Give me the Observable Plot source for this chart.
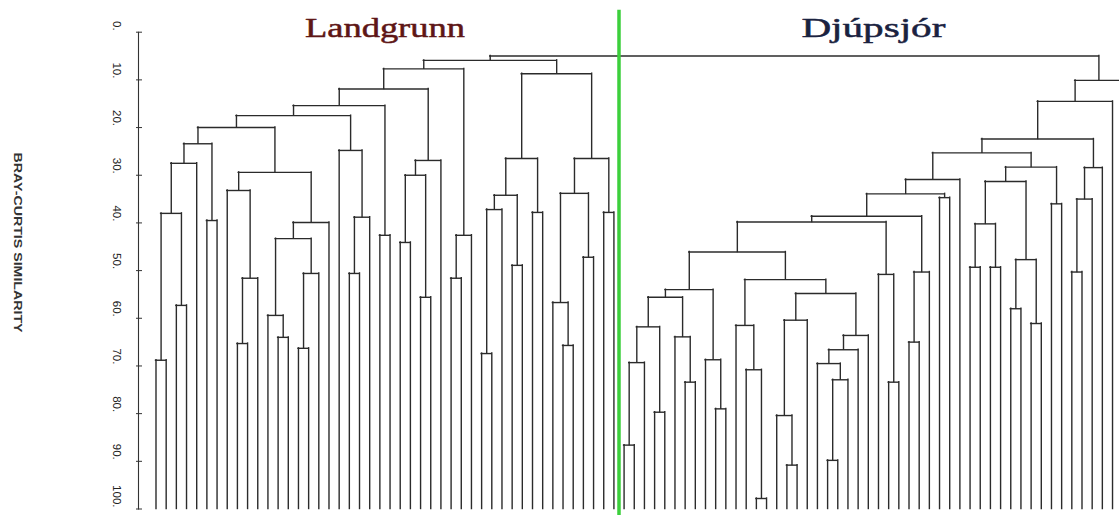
<!DOCTYPE html>
<html>
<head>
<meta charset="utf-8">
<script src="https://cdn.jsdelivr.net/npm/d3@7"></script>
<script src="https://cdn.jsdelivr.net/npm/@observablehq/plot@0.6"></script>
<style>
  html, body { margin: 0; padding: 0; background: #fff; overflow: hidden; }
  #chart svg { display: block; }
</style>
</head>
<body>
<div id="chart"></div>
<script>
// Bray-Curtis similarity dendrogram of the sampling stations.
// Every internal node is [similarity, left, right]; L stands for a single station.
const L = null;

// Landgrunn (shelf) stations
const shelfA = [23.4, [27.5, [38.0, [68.8, L, L], [57.3, L, L]], L], [39.5, L, L]];
const shelfB = [29.4, [33.2, L, [51.6, [65.3, L, L], L]],
                      [39.9, [43.3, [59.4, L, [64.0, L, L]], [50.6, [66.3, L, L], L]], L]];
const shelfC = [24.8, L, [38.8, [50.6, L, L], L]];
const shelfD = [26.9, [30.0, [44.1, L, L], [55.6, L, L]], L];
const shelfE = [42.6, [51.6, L, L], L];
const shelfF = [26.5, [34.2, [37.2, [67.4, L, L], L], [48.9, L, L]], [37.8, L, L]];
const shelfG = [26.5, [33.8, [56.7, L, [65.7, L, L]], [47.2, L, L]], [37.8, L, L]];
const landgrunn = [5.9,
  [7.7, [11.9, [15.4, [17.5, [20.0, shelfA, shelfB], shelfC], [42.6, L, L]], shelfD], shelfE],
  [8.7, shelfF, shelfG]];

// Djúpsjór (deep water) stations
const deepA = [54.0, [55.6, [61.8, [69.3, [86.6, L, L], L], [79.7, L, L]], [63.9, L, [73.4, L, L]]],
                     [68.7, L, [79.0, L, L]]];
const deepB = [51.9, [61.5, L, [70.8, L, [97.8, L, L]]],
                     [54.8, [60.4, [80.4, L, [90.8, L, L]], L],
                            [63.6, [66.6, [69.5, L, [72.9, [89.8, L, L], L]], L], L]]];
const deepC = [28.3, [31.3, [40.2, [49.3, L, L], [49.3, L, L]], [47.7, [58.0, L, L], [61.1, L, L]]], [36.0, L, L]];
const deepD = [28.4, [35.0, [50.3, L, L], L], L];
const deepE = [39.8, [46.1, deepA, deepB], [50.8, L, [73.4, L, L]]];
const deepF = [30.9, [33.9, [38.6, deepE, [50.3, [65.0, L, L], L]], [34.7, L, L]], L];
const djupsjor = [10.1, [14.5, [22.4, [25.3, deepF, deepC], deepD], L], L];

// The two groups joined at the top
const rootSimilarity = 5.0;
const groupNames = ["Landgrunn", "Djúpsjór"];
const groupTrees = [landgrunn, djupsjor];

// Similarity axis
const yTicks = [0, 10, 20, 30, 40, 50, 60, 70, 80, 90, 100];
const axisTitle = "BRAY-CURTIS SIMILARITY";

// ---- layout: leaves get consecutive positions, each node sits midway over its children
const countLeaves = (n) => n === L ? 1 : countLeaves(n[1]) + countLeaves(n[2]);

function layoutDendrogram(root) {
  const verticals = [], horizontals = [];
  let next = 0;
  function walk(node) {
    if (node === L) return {x: next++, y: 100};
    const [s, left, right] = node;
    const a = walk(left), b = walk(right);
    verticals.push({x: a.x, y1: a.y, y2: s}, {x: b.x, y1: b.y, y2: s});
    horizontals.push({y: s, x1: a.x, x2: b.x});
    return {x: (a.x + b.x) / 2, y: s};
  }
  walk(root);
  return {verticals, horizontals, leafCount: next};
}

const {verticals, horizontals, leafCount} = layoutDendrogram([rootSimilarity, ...groupTrees]);

let start = 0;
const groups = groupNames.map((name, i) => {
  const n = countLeaves(groupTrees[i]);
  const g = {name, first: start, last: start + n - 1, center: start + (n - 1) / 2};
  start += n;
  return g;
});
const divider = (groups[0].last + groups[1].first) / 2;

// ---- styles
const lineColor = "#2b2b2b";
const titleColors = {"Landgrunn": "#5e1616", "Djúpsjór": "#1a2240"};
// stretched lengths (px) of the wide lettering
const textWidths = {"Landgrunn": 160, "Djúpsjór": 144, [axisTitle]: 180};

const chart = Plot.plot({
  width: 1119,
  height: 515,
  marginTop: 31.7,
  marginBottom: 6.5,
  marginLeft: 138,
  marginRight: 0,
  style: {background: "#fff", overflow: "visible"},
  x: {domain: [0, leafCount - 1], range: [155.5, 1122.2], axis: null},
  y: {domain: [0, 100], reverse: true},
  marks: [
    // dendrogram
    Plot.ruleX(verticals, {x: "x", y1: "y1", y2: "y2", stroke: lineColor, strokeWidth: 1.4, strokeLinecap: "square"}),
    Plot.ruleY(horizontals, {y: "y", x1: "x1", x2: "x2", stroke: lineColor, strokeWidth: 1.4, strokeLinecap: "square"}),
    // boundary between the two groups
    Plot.ruleX([divider], {x: (d) => d, stroke: "#3ccf3c", strokeWidth: 3.5, insetTop: -22, insetBottom: -7}),
    // similarity axis
    Plot.frame({anchor: "left", stroke: "#333", strokeWidth: 1.1}),
    Plot.axisY({anchor: "left", ticks: yTicks, tickSize: 6, dx: 4, tickFormat: () => "", label: null, stroke: "#333"}),
    Plot.text(yTicks, {
      y: (d) => d, text: (d) => `${d}.`, frameAnchor: "left", rotate: 90,
      textAnchor: "end", lineAnchor: "middle", dx: -22, dy: -1.5,
      fontSize: 11.5, fontFamily: "Liberation Sans, Arial, sans-serif", fill: "#222"
    }),
    Plot.text([axisTitle], {
      text: (d) => d, frameAnchor: "left", rotate: 90, textAnchor: "start", dx: -121, dy: -118,
      fontSize: 10, fontWeight: "bold", fontFamily: "Liberation Sans, Arial, sans-serif", fill: "#333"
    }),
    // group names
    ...groups.map((g) => Plot.text([g], {
      x: "center", y: 0, text: "name", lineAnchor: "bottom", dy: 5,
      fontSize: 28, fontFamily: "Liberation Serif, Times New Roman, serif",
      fill: titleColors[g.name], stroke: titleColors[g.name], strokeWidth: 0.5
    }))
  ]
});

// widen the group names and the axis title to their set lengths
d3.select(chart).selectAll("text").each(function () {
  const w = textWidths[this.textContent.trim()];
  if (w) d3.select(this).attr("textLength", w).attr("lengthAdjust", "spacingAndGlyphs");
});

document.getElementById("chart").append(chart);
</script>
</body>
</html>
